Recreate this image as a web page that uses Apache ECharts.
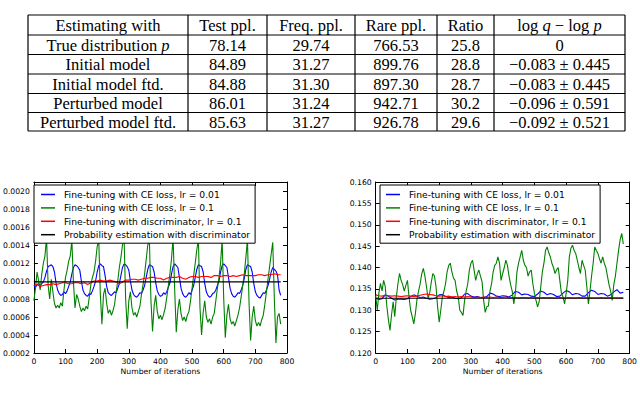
<!DOCTYPE html>
<html>
<head>
<meta charset="utf-8">
<script src="https://cdn.jsdelivr.net/npm/echarts@6/dist/echarts.min.js"></script>
<style>
  html, body { margin: 0; padding: 0; background: #fff; }
  #main { width: 640px; height: 395px; }
</style>
</head>
<body>
<div id="main"></div>
<script>
// table on top
const tableHeader = ['Estimating with', 'Test ppl.', 'Freq. ppl.', 'Rare ppl.', 'Ratio', 'log {i|q} \u2212 log {i|p}'];
const tableModels = ['True distribution {i|p}', 'Initial model', 'Initial model ftd.', 'Perturbed model', 'Perturbed model ftd.'];
const testPpl = ['78.14', '84.89', '84.88', '86.01', '85.63'];
const freqPpl = ['29.74', '31.27', '31.30', '31.24', '31.27'];
const rarePpl = ['766.53', '899.76', '897.30', '942.71', '926.78'];
const ratio = ['25.8', '28.8', '28.7', '30.2', '29.6'];
const logDiff = ['0', '\u22120.083 \u00b1 0.445', '\u22120.083 \u00b1 0.445', '\u22120.096 \u00b1 0.591', '\u22120.092 \u00b1 0.521'];

const seriesNames = [
  'Fine-tuning with CE loss, lr = 0.01',
  'Fine-tuning with CE loss, lr = 0.1',
  'Fine-tuning with discriminator, lr = 0.1',
  'Probability estimation with discriminator'
];

// left plot, values in units of 1e-5
const leftBlue = [ // every 5 iterations
  95, 93, 96, 97, 95, 97, 99, 104, 111, 116,
  117, 118, 116, 110, 98, 90, 86, 84, 85, 88,
  86, 89, 94, 99, 108, 115, 118, 117, 115, 112,
  100, 90, 86, 84, 83, 86, 85, 89, 94, 100,
  110, 117, 119, 117, 116, 106, 94, 87, 85, 84,
  86, 88, 87, 92, 97, 106, 115, 119, 118, 116,
  112, 100, 90, 85, 83, 82, 84, 87, 86, 90,
  95, 104, 113, 118, 117, 116, 110, 98, 89, 85,
  83, 84, 87, 85, 88, 93, 98, 108, 116, 119,
  117, 115, 104, 92, 86, 83, 82, 84, 87, 85,
  90, 95, 104, 113, 118, 117, 116, 110, 97, 88,
  84, 82, 83, 86, 87, 90, 95, 100, 110, 117,
  119, 117, 115, 104, 92, 86, 83, 82, 84, 87,
  86, 90, 95, 103, 113, 118, 117, 116, 110, 97,
  88, 84, 82, 81, 84, 87, 86, 90, 95, 102,
  110, 115, 113, 111, 107, 90, 84
];
const leftGreen = [ // every 5 iterations
  78, 92, 110, 100, 90, 108, 120, 128, 148, 95,
  80, 102, 88, 75, 70, 73, 70, 76, 72, 90,
  104, 112, 122, 128, 145, 98, 70, 85, 80, 72,
  66, 70, 67, 72, 69, 82, 96, 104, 110, 122,
  138, 146, 85, 52, 85, 92, 75, 64, 68, 62,
  67, 74, 88, 100, 115, 126, 140, 148, 80, 47,
  78, 88, 70, 62, 65, 60, 66, 72, 85, 96,
  108, 124, 140, 146, 78, 44, 72, 84, 66, 58,
  62, 57, 63, 70, 82, 95, 108, 125, 148, 90,
  43, 68, 80, 64, 56, 60, 55, 62, 66, 78,
  92, 106, 120, 135, 146, 70, 40, 65, 78, 60,
  54, 58, 52, 60, 64, 78, 92, 104, 120, 146,
  80, 37, 62, 74, 58, 52, 55, 50, 56, 62,
  70, 82, 95, 108, 126, 146, 76, 34, 60, 72,
  56, 50, 54, 50, 57, 62, 74, 88, 102, 116,
  130, 143, 80, 31, 60, 64, 52
];
const leftRed = [ // every 10 iterations
  95, 96, 94, 95, 96, 96, 97, 96, 97, 98,
  98, 97, 97, 98, 98, 97, 98, 96, 98, 100,
  100, 101, 100, 100, 101, 100, 99, 97, 99, 101,
  101, 102, 102, 101, 102, 103, 103, 104, 104, 103,
  103, 101, 103, 104, 104, 104, 105, 103, 102, 104,
  105, 105, 104, 105, 105, 105, 104, 106, 106, 105,
  106, 106, 105, 106, 105, 106, 107, 106, 106, 106,
  106, 107, 107, 106, 107, 107, 108, 107, 107
];
const leftProbEst = 99;

// right plot, values in units of 1e-4
const rightBlue = [ // every 10 iterations
  1328, 1325, 1327, 1336, 1333, 1328, 1324, 1326, 1326, 1325,
  1327, 1332, 1336, 1333, 1330, 1331, 1328, 1326, 1327, 1329,
  1336, 1337, 1332, 1330, 1331, 1328, 1327, 1329, 1338, 1339,
  1333, 1331, 1332, 1330, 1330, 1332, 1340, 1338, 1333, 1332,
  1334, 1333, 1331, 1336, 1344, 1342, 1336, 1338, 1337, 1333,
  1332, 1338, 1345, 1342, 1336, 1339, 1337, 1332, 1333, 1340,
  1346, 1343, 1336, 1339, 1338, 1333, 1333, 1341, 1347, 1344,
  1337, 1339, 1338, 1333, 1336, 1343, 1348, 1340, 1342
];
const rightGreen = [ // every 5 iterations
  1334, 1300, 1340, 1363, 1345, 1370, 1356, 1310, 1278, 1253,
  1290, 1320, 1285, 1331, 1362, 1386, 1370, 1360, 1345, 1358,
  1370, 1331, 1300, 1285, 1268, 1292, 1325, 1345, 1362, 1385,
  1398, 1380, 1355, 1328, 1340, 1365, 1386, 1380, 1355, 1308,
  1272, 1300, 1331, 1345, 1362, 1390, 1405, 1410, 1390, 1375,
  1370, 1345, 1331, 1300, 1295, 1288, 1323, 1345, 1362, 1394,
  1410, 1417, 1394, 1370, 1385, 1394, 1380, 1367, 1323, 1295,
  1308, 1310, 1345, 1362, 1390, 1405, 1410, 1425, 1410, 1370,
  1386, 1400, 1417, 1405, 1380, 1360, 1345, 1315, 1340, 1390,
  1410, 1425, 1440, 1417, 1405, 1400, 1380, 1390, 1394, 1362,
  1340, 1323, 1308, 1320, 1355, 1390, 1410, 1440, 1448, 1435,
  1425, 1410, 1400, 1386, 1395, 1400, 1370, 1340, 1331, 1315,
  1340, 1370, 1425, 1445, 1452, 1440, 1433, 1417, 1400, 1386,
  1417, 1405, 1394, 1355, 1315, 1345, 1380, 1410, 1448, 1440,
  1433, 1420, 1410, 1425, 1410, 1400, 1380, 1360, 1345, 1323,
  1360, 1380, 1410, 1440, 1465, 1480, 1455
];
const rightRed = [ // every 10 iterations
  1336, 1334, 1333, 1335, 1334, 1333, 1334, 1333, 1332, 1333,
  1334, 1333, 1332, 1333, 1335, 1337, 1338, 1337, 1336, 1334,
  1333, 1334, 1332, 1333, 1331, 1332, 1331, 1332, 1331, 1332,
  1331, 1330, 1331, 1330, 1331, 1330, 1331, 1330, 1331, 1330,
  1330, 1331, 1329, 1330, 1330, 1329, 1330, 1330, 1329, 1330,
  1329, 1330, 1329, 1330, 1329, 1330, 1329, 1329, 1330, 1329,
  1329, 1330, 1329, 1329, 1330, 1329, 1329, 1330, 1329, 1329,
  1329, 1330, 1329, 1329, 1330, 1329, 1329, 1329, 1329
];
const rightProbEst = 1328;

const lastIter = 780;
const colors = ['#0000ff', '#008000', '#ff0000', '#000000'];

function pairs(vals, step, scale) {
  return vals.map((v, i) => [i * step, v * scale]);
}

const tickFont = { fontFamily: 'DejaVu Sans', fontSize: 7.7, color: '#000' };

function xAxes(grid) {
  const base = {
    gridIndex: grid, type: 'value', min: 0, max: 800, interval: 100,
    axisLine: { show: true, onZero: false, lineStyle: { color: '#000', width: 1 } },
    axisTick: { show: true, inside: true, length: 4, lineStyle: { color: '#000', width: 1 } },
    splitLine: { show: false }
  };
  return [
    Object.assign({}, base, {
      position: 'bottom',
      axisLabel: Object.assign({ margin: 4, formatter: v => String(v) }, tickFont),
      name: 'Number of iterations', nameLocation: 'middle', nameGap: 14,
      nameTextStyle: tickFont
    }),
    Object.assign({}, base, { position: 'top', axisLabel: { show: false } })
  ];
}

function yAxes(grid, min, max, step, digits, showTop) {
  const base = {
    gridIndex: grid, type: 'value', min: min, max: max, interval: step,
    axisLine: { show: true, onZero: false, lineStyle: { color: '#000', width: 1 } },
    axisTick: { show: true, inside: true, length: 4, lineStyle: { color: '#000', width: 1 } },
    splitLine: { show: false }
  };
  return [
    Object.assign({}, base, {
      position: 'left',
      axisLabel: Object.assign({ margin: 4, showMaxLabel: showTop, showMinLabel: true,
        formatter: v => v.toFixed(digits) }, tickFont)
    }),
    Object.assign({}, base, { position: 'right', axisLabel: { show: false } })
  ];
}

function lineSeries(name, color, data, xi, yi) {
  return {
    name: name, type: 'line', data: data, xAxisIndex: xi, yAxisIndex: yi,
    symbol: 'none', showSymbol: false, color: color,
    lineStyle: { color: color, width: 1.1 }, animation: false
  };
}

function legendAt(left, padLeft) {
  return {
    orient: 'vertical', left: left, top: 185,
    padding: [4, 5, 3, padLeft], itemGap: 2.4,
    itemWidth: 14, itemHeight: 1.5, icon: 'rect',
    backgroundColor: '#fff', borderColor: '#000', borderWidth: 1, borderRadius: 0,
    selectedMode: false, data: seriesNames,
    textStyle: { fontFamily: 'DejaVu Sans', fontSize: 9.2, color: '#000', lineHeight: 11, padding: [0, 0, 0, 4] }
  };
}

// table drawn with graphic elements
const colX = [28, 188, 267, 355, 437, 494, 625];
const rowY = [15, 35, 54.5, 74, 93.5, 112.5, 131];
const cellFont = { fontFamily: 'Liberation Serif', fontSize: 16.5, fill: '#000' };
const tableGraphic = [];
rowY.forEach(y => tableGraphic.push({
  type: 'line', shape: { x1: colX[0], y1: y, x2: colX[colX.length - 1], y2: y },
  style: { stroke: '#000', lineWidth: 1.2 }
}));
colX.forEach(x => tableGraphic.push({
  type: 'line', shape: { x1: x, y1: rowY[0], x2: x, y2: rowY[rowY.length - 1] },
  style: { stroke: '#000', lineWidth: 1.2 }
}));
const tableRows = [tableHeader].concat(tableModels.map((m, i) =>
  [m, testPpl[i], freqPpl[i], rarePpl[i], ratio[i], logDiff[i]]));
tableRows.forEach((row, r) => {
  row.forEach((txt, c) => {
    tableGraphic.push({
      type: 'text',
      x: (colX[c] + colX[c + 1]) / 2,
      y: (rowY[r] + rowY[r + 1]) / 2 + 0.5,
      style: Object.assign({
        text: txt, align: 'center', verticalAlign: 'middle',
        rich: { i: Object.assign({ fontStyle: 'italic' }, cellFont) }
      }, cellFont)
    });
  });
});

const chart = echarts.init(document.getElementById('main'), null, { renderer: 'svg' });
chart.setOption({
  backgroundColor: '#fff',
  animation: false,
  grid: [
    { left: 30.7, top: 182, width: 256.3, height: 171 },
    { left: 375.7, top: 182, width: 256.3, height: 171 }
  ],
  xAxis: xAxes(0).concat(xAxes(1)),
  yAxis: yAxes(0, 0.0002, 0.0021, 0.0002, 4, false).concat(yAxes(1, 0.12, 0.16, 0.005, 3, true)),
  legend: [legendAt(34, 7), legendAt(380, 6)],
  series: [
    lineSeries(seriesNames[0], colors[0], pairs(leftBlue, 5, 1e-5), 0, 0),
    lineSeries(seriesNames[1], colors[1], pairs(leftGreen, 5, 1e-5), 0, 0),
    lineSeries(seriesNames[2], colors[2], pairs(leftRed, 10, 1e-5), 0, 0),
    lineSeries(seriesNames[3], colors[3], [[0, leftProbEst * 1e-5], [lastIter, leftProbEst * 1e-5]], 0, 0),
    lineSeries(seriesNames[0], colors[0], pairs(rightBlue, 10, 1e-4), 2, 2),
    lineSeries(seriesNames[1], colors[1], pairs(rightGreen, 5, 1e-4), 2, 2),
    lineSeries(seriesNames[2], colors[2], pairs(rightRed, 10, 1e-4), 2, 2),
    lineSeries(seriesNames[3], colors[3], [[0, rightProbEst * 1e-4], [lastIter, rightProbEst * 1e-4]], 2, 2)
  ],
  graphic: tableGraphic
});
</script>
</body>
</html>
